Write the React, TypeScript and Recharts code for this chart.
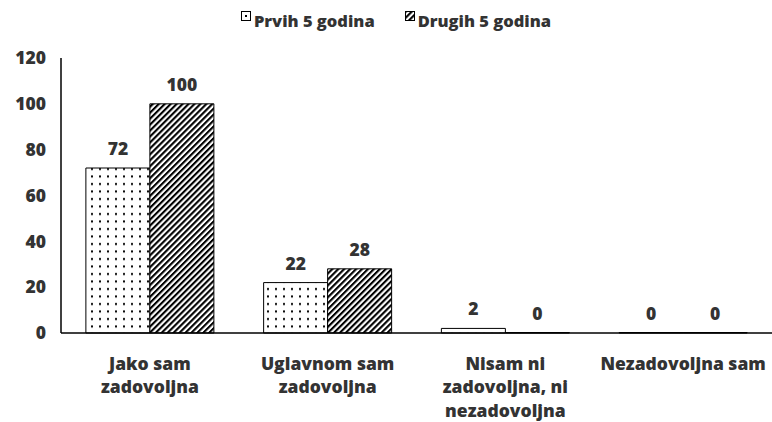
import { Bar, BarChart, LabelList, XAxis, YAxis } from "recharts";

const categories = [
  ["Jako sam", "zadovoljna"],
  ["Uglavnom sam", "zadovoljna"],
  ["Nisam ni", "zadovoljna, ni", "nezadovoljna"],
  ["Nezadovoljna sam"],
];
const firstFive = [72, 22, 2, 0];
const secondFive = [100, 28, 0, 0];
const yTicks = [0, 20, 40, 60, 80, 100, 120];
const seriesNames = ["Prvih 5 godina", "Drugih 5 godina"];

const data = categories.map((lines, i) => ({
  name: lines.join(" "),
  prvih: firstFive[i],
  drugih: secondFive[i],
}));

const FONT = "'Open Sans', sans-serif";
const TEXT = "#333333";
const SIZE = 17.5;
const WEIGHT = 800;

function CategoryTick(props: any) {
  const { x, y, index } = props;
  const lines = categories[index] ?? [];
  return (
    <text x={x} y={y} textAnchor="middle" fill={TEXT} fontSize={SIZE} fontWeight={WEIGHT} fontFamily={FONT}>
      {lines.map((l: string, i: number) => (
        <tspan key={i} x={x} dy={i === 0 ? 28.5 : 23.5}>
          {l}
        </tspan>
      ))}
    </text>
  );
}

function ValueLabel(props: any) {
  const { x, y, width, value } = props;
  return (
    <text
      x={x + width / 2}
      y={y - 13}
      textAnchor="middle"
      fill={TEXT}
      fontSize={SIZE}
      fontWeight={WEIGHT}
      fontFamily={FONT}
    >
      {value}
    </text>
  );
}

function LegendBox() {
  const item = (fill: string, label: string, dot: boolean) => (
    <span style={{ display: "flex", alignItems: "center" }}>
      <svg width={11} height={10} style={{ marginRight: 2, marginTop: -9 }}>
        <rect x={0.5} y={0.5} width={9} height={9} fill={fill} stroke="#000" />
        {dot && <rect x={4} y={4} width={2} height={2} fill="#000" />}
      </svg>
      {label}
    </span>
  );
  return (
    <div
      style={{
        position: "absolute",
        left: 0,
        top: 9,
        width: 772,
        display: "flex",
        justifyContent: "center",
        gap: 30,
        paddingLeft: 20,
        boxSizing: "border-box",
        fontFamily: FONT,
        fontWeight: WEIGHT,
        fontSize: 16.5,
        color: TEXT,
      }}
    >
      {item("#fff", seriesNames[0], true)}
      {item("url(#stripes)", seriesNames[1], false)}
    </div>
  );
}

export default function App() {
  return (
    <div style={{ position: "absolute", left: 0, top: 0, width: 772, height: 422 }}>
      <BarChart
        width={772}
        height={422}
        data={data}
        margin={{ top: 58, right: 0, left: 0, bottom: 0 }}
        barCategoryGap="14%"
        barGap={0}
      >
        <defs>
          <pattern id="dots" width={8} height={7.5} patternUnits="userSpaceOnUse">
            <rect width={8} height={7.5} fill="#fff" />
            <rect x={3} y={3} width={2} height={2} fill="#000" />
          </pattern>
          <pattern
            id="stripes"
            width={4.2}
            height={4.2}
            patternUnits="userSpaceOnUse"
            patternTransform="rotate(45)"
          >
            <rect width={4.2} height={4.2} fill="#fff" />
            <rect x={0} y={0} width={2.1} height={4.2} fill="#000" />
          </pattern>
        </defs>
        <XAxis
          dataKey="name"
          tick={<CategoryTick />}
          tickLine={false}
          axisLine={{ stroke: "#000", strokeWidth: 1.5 }}
          height={89}
          interval={0}
        />
        <YAxis
          domain={[0, 120]}
          ticks={yTicks}
          tickLine={false}
          axisLine={{ stroke: "#000", strokeWidth: 1.5 }}
          width={61}
          tickMargin={9}
          tick={{ fill: TEXT, fontSize: SIZE, fontWeight: WEIGHT, fontFamily: FONT }}
        />
        <Bar
          dataKey="prvih"
          name={seriesNames[0]}
          fill="url(#dots)"
          stroke="#000"
          strokeWidth={1}
          minPointSize={0.5}
          isAnimationActive={false}
        >
          <LabelList dataKey="prvih" content={<ValueLabel />} />
        </Bar>
        <Bar
          dataKey="drugih"
          name={seriesNames[1]}
          fill="url(#stripes)"
          stroke="#000"
          strokeWidth={1}
          minPointSize={0.5}
          isAnimationActive={false}
        >
          <LabelList dataKey="drugih" content={<ValueLabel />} />
        </Bar>
      </BarChart>
      <LegendBox />
    </div>
  );
}
